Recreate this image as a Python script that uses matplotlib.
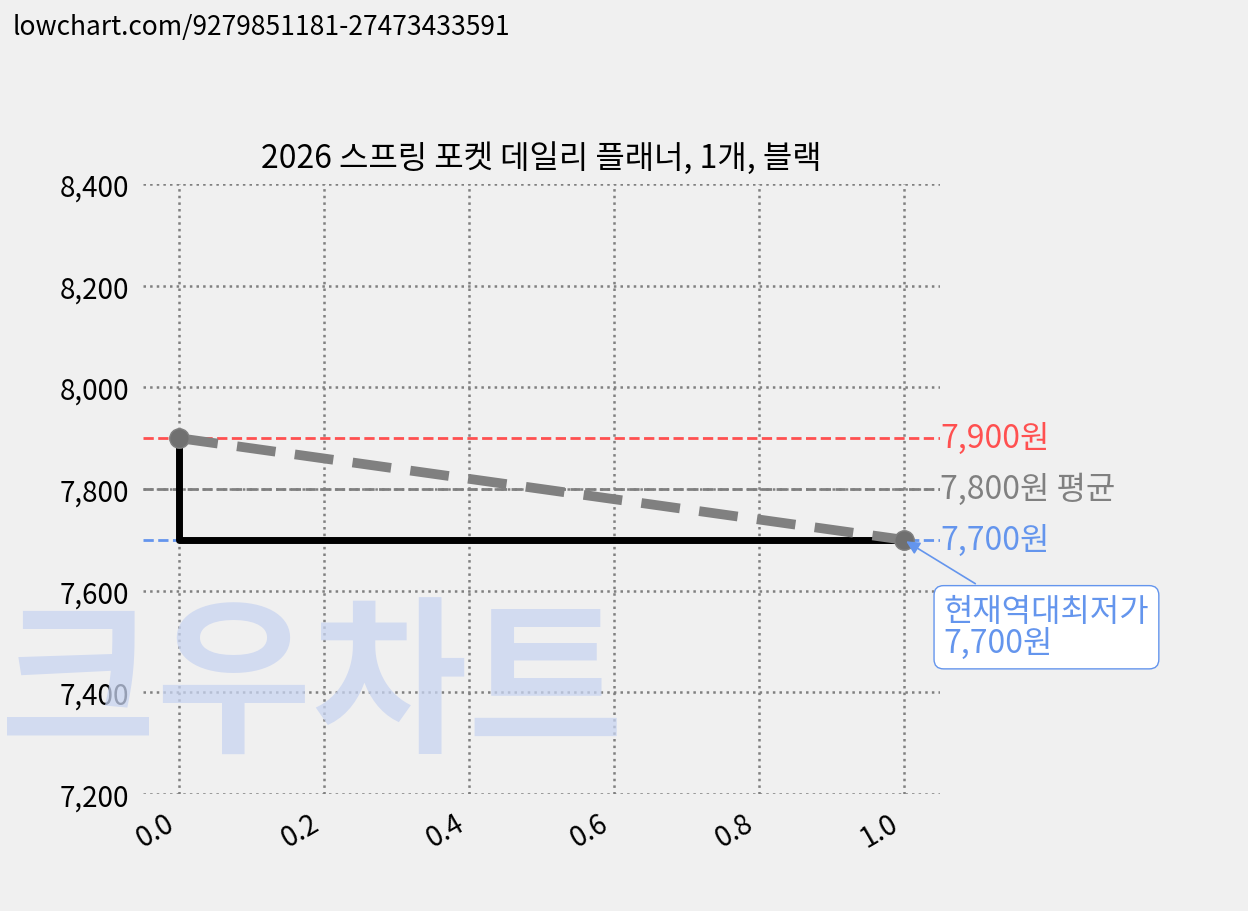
import matplotlib
matplotlib.use("Agg")
import matplotlib.pyplot as plt

plt.rcParams['font.family'] = ['Noto Sans CJK KR', 'DejaVu Sans']

x = [0.0, 1.0]
prices = [7900, 7700]
max_p, avg_p, min_p = 7900, 7800, 7700
title = "2026 스프링 포켓 데일리 플래너, 1개, 블랙"
yticks = [7200, 7400, 7600, 7800, 8000, 8200, 8400]
xticks = [0.0, 0.2, 0.4, 0.6, 0.8, 1.0]

fig = plt.figure(figsize=(12.48, 9.12), dpi=100, facecolor='#f0f0f0')
ax = fig.add_axes([143/1248, 1-795/912, (940-143)/1248, (795-185)/912])
ax.set_facecolor('#f0f0f0')
ax.set_xlim(-0.05, 1.05)
ax.set_ylim(7200, 8400)
for s in ax.spines.values():
    s.set_visible(False)

fig.text(0.0, 1-690/912, "크우차트", fontsize=122, fontweight='black',
         color='#c8d4f0', alpha=0.75, ha='left', va='center', zorder=0)
fig.text(0.01, 0.985, "lowchart.com/9279851181-27473433591", fontsize=19, va='top')

ax.grid(True, linestyle=':', color='gray', linewidth=1.8)
ax.set_axisbelow(True)
ax.set_yticks(yticks)
ax.set_yticklabels([f"{v:,}" for v in yticks], fontsize=20)
ax.set_xticks(xticks)
ax.set_xticklabels([f"{v:.1f}" for v in xticks], fontsize=20, rotation=30, ha='right')
ax.tick_params(length=0, pad=10)

ax.axhline(max_p, color='#ff5050', linestyle='--', linewidth=2)
ax.axhline(avg_p, color='gray', linestyle='--', linewidth=2)
ax.axhline(min_p, color='#6495ed', linestyle='--', linewidth=2)
ax.plot(x, prices, drawstyle='steps-pre', color='black', linewidth=5)
ax.plot(x, prices, color='gray', linestyle='--', linewidth=7, dashes=(4, 2),
        marker='o', markersize=14, markerfacecolor='#707070', markeredgecolor='#808080')

ax.text(1.05, max_p, f"{max_p:,}원", color='#ff5050', fontsize=23, va='center')
ax.text(1.05, avg_p, f"{avg_p:,}원 평균", color='gray', fontsize=23, va='center')
ax.text(1.05, min_p, f"{min_p:,}원", color='#6495ed', fontsize=23, va='center')
ax.annotate(f"현재역대최저가\n{min_p:,}원", xy=(1.0, min_p), xytext=(1.055, 7465),
            fontsize=23, color='#6495ed', va='bottom', ha='left', linespacing=1.0,
            bbox=dict(boxstyle='round,pad=0.3', fc='white', ec='#6495ed'),
            arrowprops=dict(arrowstyle='-|>', color='#6495ed', lw=1.2, mutation_scale=20))
ax.set_title(title, fontsize=23, pad=12)

fig.savefig("out.png", dpi=100, facecolor='#f0f0f0')
